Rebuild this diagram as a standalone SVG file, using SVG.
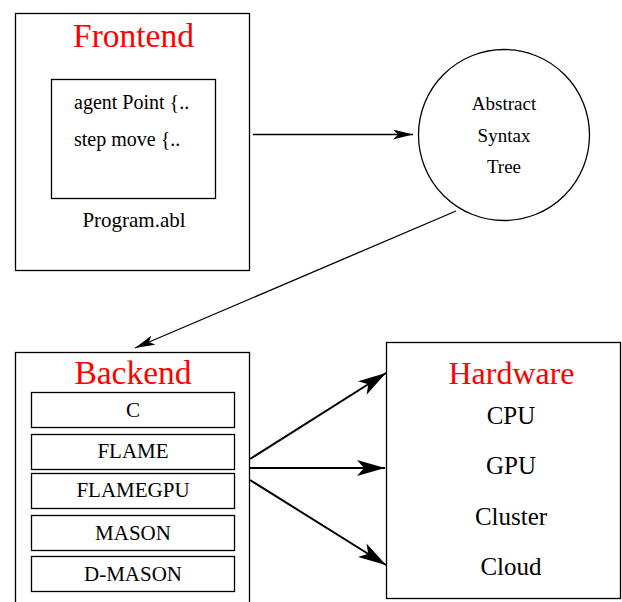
<svg xmlns="http://www.w3.org/2000/svg" width="622" height="602" viewBox="0 0 622 602">
<style>
.box{fill:#fff;stroke:#000;stroke-width:1.3}
.t{font-family:"Liberation Serif","Times New Roman",serif;fill:#000}
.title{font-family:"Liberation Serif","Times New Roman",serif;fill:#f00;text-anchor:middle}
.c{text-anchor:middle}
.ln{stroke:#000;fill:none}
</style>
<defs>
<marker id="ah" viewBox="0 0 20 10" refX="20" refY="5" markerWidth="20" markerHeight="10" markerUnits="userSpaceOnUse" orient="auto">
<path d="M0,0 L20,5 L0,10 L5,5 Z" fill="#000"/>
</marker>
<marker id="ahb" viewBox="0 0 28 16" refX="28" refY="8" markerWidth="28" markerHeight="16" markerUnits="userSpaceOnUse" orient="auto">
<path d="M0,0 L28,8 L0,16 L7,8 Z" fill="#000"/>
</marker>
</defs>
<g id="frontend">
<rect class="box" x="15.5" y="13.5" width="234" height="257"/>
<text class="title" x="133.5" y="46.5" font-size="33.5">Frontend</text>
<rect class="box" x="51.5" y="79.5" width="164" height="119"/>
<text class="t" x="74" y="109" font-size="20">agent Point {..</text>
<text class="t" x="74" y="145.5" font-size="20">step move {..</text>
<text class="t c" x="134" y="226.5" font-size="21">Program.abl</text>
</g>
<g id="ast">
<circle class="box" cx="504" cy="135" r="85.5"/>
<text class="t c" x="504" y="110" font-size="19">Abstract</text>
<text class="t c" x="504" y="141.5" font-size="19">Syntax</text>
<text class="t c" x="504" y="173" font-size="19">Tree</text>
</g>
<g id="backend">
<rect class="box" x="15.5" y="352.5" width="234" height="260"/>
<text class="title" x="133" y="383.5" font-size="33.5">Backend</text>
<rect class="box" x="31.5" y="392.5" width="203" height="35"/>
<text class="t c" x="133" y="416.5" font-size="21">C</text>
<rect class="box" x="31.5" y="434.5" width="203" height="35"/>
<text class="t c" x="133" y="458" font-size="21">FLAME</text>
<rect class="box" x="31.5" y="473.5" width="203" height="35"/>
<text class="t c" x="133" y="497" font-size="21">FLAMEGPU</text>
<rect class="box" x="31.5" y="515.5" width="203" height="35"/>
<text class="t c" x="133" y="540" font-size="21">MASON</text>
<rect class="box" x="31.5" y="556.5" width="203" height="35"/>
<text class="t c" x="133" y="581" font-size="21">D-MASON</text>
</g>
<g id="hardware">
<rect class="box" x="386.5" y="342.5" width="234" height="256"/>
<text class="title" x="511.5" y="384" font-size="32">Hardware</text>
<text class="t c" x="511" y="424" font-size="25">CPU</text>
<text class="t c" x="511" y="474" font-size="25">GPU</text>
<text class="t c" x="511" y="525" font-size="25">Cluster</text>
<text class="t c" x="511" y="575" font-size="25">Cloud</text>
</g>
<g id="connectors">
<line class="ln" x1="253" y1="134.5" x2="413" y2="134.5" stroke-width="1.3" marker-end="url(#ah)"/>
<line class="ln" x1="456" y1="211" x2="135" y2="348" stroke-width="1.3" marker-end="url(#ah)"/>
<line class="ln" x1="250" y1="459" x2="386" y2="373" stroke-width="2" marker-end="url(#ahb)"/>
<line class="ln" x1="250" y1="468" x2="385" y2="468" stroke-width="2" marker-end="url(#ahb)"/>
<line class="ln" x1="250" y1="480" x2="386" y2="565" stroke-width="2" marker-end="url(#ahb)"/>
</g>
</svg>
